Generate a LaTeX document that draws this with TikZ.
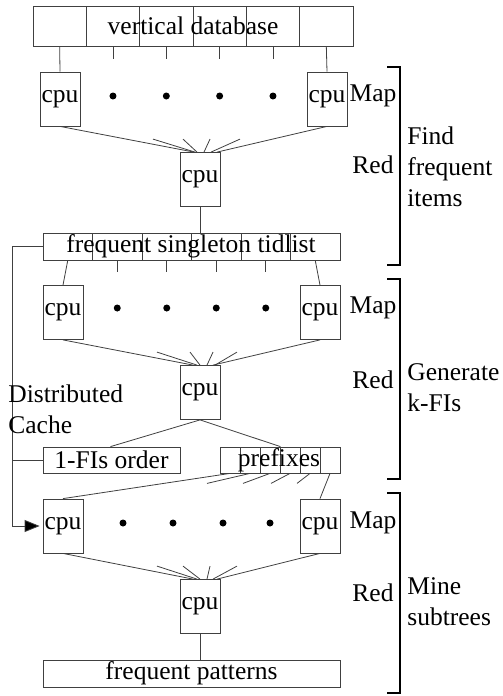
\documentclass[tikz,border=0pt]{standalone}
\usepackage{fontspec}
\setmainfont{Liberation Serif}
\usetikzlibrary{arrows.meta}

\begin{document}
\begin{tikzpicture}[x=1pt, y=-1pt, line width=0.8pt,
	every node/.style={inner sep=0pt, font=\fontsize{25.5}{31}\selectfont},
	box/.style={draw=black!75, rectangle},
	cpu/.style={box, minimum width=40pt, minimum height=54pt},
	dot/.style={circle, fill=black, minimum size=7pt},
	wire/.style={draw=black!75},
	brace/.style={draw=black, line width=1.1pt}]

	\useasboundingbox (0,0) rectangle (503,696);

	% vertical database
	\foreach \i in {1,...,6}
		\node[box, minimum width=53.33pt, minimum height=40pt] (db\i) at ({33+53.33*(\i-0.5)}, 26) {};
	\node (dbtext) at (193, 26) {vertical database};

	% map 1
	\node[cpu] (m1a) at (60, 99) {cpu};
	\node[cpu] (m1b) at (327, 99) {cpu};
	\draw[wire] (db1.south) -- (m1a.north);
	\draw[wire] (db6.south) -- (m1b.north);
	\foreach \i in {2,...,5} {
		\draw[wire] (db\i.south) -- ++(0,13);
		\node[dot] (d1\i) at (db\i |- 0,96) {};
	}
	\node[cpu] (r1) at (200, 179.5) {cpu};
	\draw[wire] (m1a.south) -- ([xshift=-6pt]r1.north);
	\draw[wire] (m1b.south) -- ([xshift=17pt]r1.north);
	\foreach \a/\b in {-47/-5, -17/-3, 10/4, 40/11}
		\draw[wire] ([shift={(\a,-13)}]r1.north) -- ([xshift=\b pt]r1.north);

	% frequent singleton tidlist
	\foreach \i in {1,...,6}
		\node[box, minimum width=49.5pt, minimum height=27pt] (ft\i) at ({43+49.5*(\i-0.5)}, 246.5) {};
	\node (fttext) at (191, 246.5) {frequent singleton tidlist};
	\draw[wire] (r1.south) -- (r1.south |- ft1.north);

	% map 2
	\node[cpu] (m2a) at (63, 312.5) {cpu};
	\node[cpu] (m2b) at (320, 312.5) {cpu};
	\draw[wire] (ft1.south) -- (m2a.north);
	\draw[wire] (ft6.south) -- (m2b.north);
	\foreach \i in {2,...,5} {
		\draw[wire] (ft\i.south) -- ++(0,12);
		\node[dot] (d2\i) at (ft\i |- 0,308) {};
	}
	\node[cpu] (r2) at (200, 392.5) {cpu};
	\draw[wire] (m2a.south) -- ([xshift=-7pt]r2.north);
	\draw[wire] (m2b.south) -- ([xshift=13pt]r2.north);
	\foreach \a/\b in {-43/-3, -10/0, 13/7, 37/15}
		\draw[wire] ([shift={(\a,-13)}]r2.north) -- ([xshift=\b pt]r2.north);

	% 1-FIs order and prefixes
	\node[box, minimum width=137pt, minimum height=26pt] (fo) at (111.5, 460) {1-FIs order};
	\foreach \i in {1,...,6}
		\node[box, minimum width=20pt, minimum height=26pt] (px\i) at ({220+20*(\i-0.5)}, 460) {};
	\node (pxtext) at (279, 460) {prefixes};
	\draw[wire] (r2.south) -- ([xshift=-1pt]fo.north);
	\draw[wire] (r2.south) -- (px3.north east);

	% map 3
	\node[cpu] (m3a) at (63, 526) {cpu};
	\node[cpu] (m3b) at (320, 526) {cpu};
	\draw[wire] (px1.south) -- (m3a.north);
	\draw[wire] (px6.south) -- (m3b.north);
	\foreach \i/\dx in {2/-43, 3/-27, 4/-19, 5/-13}
		\draw[wire] (px\i.south) -- ++(\dx,10);
	\foreach \x [count=\k] in {123, 173, 223, 270}
		\node[dot] (d3\k) at (\x, 523) {};
	\node[cpu] (r3) at (200, 606.5) {cpu};
	\draw[wire] (m3a.south) -- ([xshift=-7pt]r3.north);
	\draw[wire] (m3b.south) -- ([xshift=17pt]r3.north);
	\foreach \a/\b in {-43/-3, -17/0, 10/7, 37/13}
		\draw[wire] ([shift={(\a,-13)}]r3.north) -- ([xshift=\b pt]r3.north);

	% frequent patterns
	\node[box, minimum width=297pt, minimum height=27pt] (fp) at (191.5, 673.5) {frequent patterns};
	\draw[wire] (r3.south) -- (r3.south |- fp.north);

	% distributed cache
	\coordinate (fbtop) at (12, 246.5);
	\coordinate (fbmid) at (12, 460);
	\coordinate (fbbot) at (12, 526);
	\draw[wire] (ft1.west) -- (fbtop) -- (fbbot);
	\draw[wire] (fbmid) -- (fo.west);
	\draw[wire, -{Triangle[length=15pt, width=12pt, fill=black]}, shorten >=3pt] (fbbot) -- (m3a.west);
	\node[align=left, anchor=west] (dc) at (8, 409) {Distributed\\Cache};

	% phases
	\foreach \y/\z [count=\k] in {96/165, 308/380, 523/593} {
		\node (map\k) at (373, \y) {Map};
		\node (red\k) at (373, \z) {Red};
	}
	\draw[brace] (387,67) -- (400,67) -- (400,265) -- (387,265);
	\draw[brace] (387,279) -- (400,279) -- (400,479) -- (387,479);
	\draw[brace] (387,493) -- (400,493) -- (400,693) -- (387,693);
	\node[align=left, anchor=west] (st1) at (407, 167) {Find\\frequent\\items};
	\node[align=left, anchor=west] (st2) at (407, 388) {Generate\\k-FIs};
	\node[align=left, anchor=west] (st3) at (407, 602) {Mine\\subtrees};
\end{tikzpicture}
\end{document}
